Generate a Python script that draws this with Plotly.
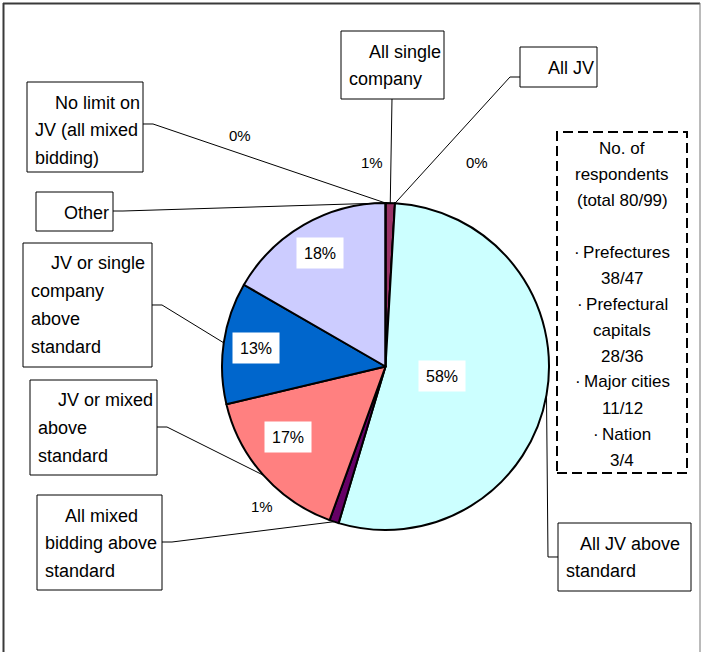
import math
import plotly.graph_objects as go

# ---- data -------------------------------------------------------------
categories = [
    "All single company",
    "All JV",
    "All JV above standard",
    "All mixed bidding above standard",
    "JV or mixed above standard",
    "JV or single company above standard",
    "Other",
    "No limit on JV (all mixed bidding)",
]
shares = [1, 0, 58, 1, 17, 13, 18, 0]  # percent of respondents
slice_colors = ["#993366", "#FFFFFF", "#CCFFFF", "#660066",
                "#FF8080", "#0066CC", "#CCCCFF", "#FFFFFF"]

respondent_lines = [
    "No. of", "respondents", "(total 80/99)", "",
    "·\u2009Prefectures", "38/47",
    "·\u2009Prefectural", "capitals", "28/36",
    "·\u2009Major cities", "11/12",
    "·\u2009Nation", "3/4",
]

# ---- layout helpers ----------------------------------------------------
W, H = 701, 652
CX, CY, R = 385.5, 366.5, 163.5
FONT = "Liberation Sans, Arial, sans-serif"


def px(x):
    return x / W


def py(y):
    return 1 - y / H


def edge_point(theta_deg):
    t = math.radians(theta_deg)
    return CX + R * math.sin(t), CY - R * math.cos(t)


# label boxes: rectangle, wrapped text, leader start, elbow, anchor within slice
label_boxes = {
    "All single company": dict(rect=(341, 31, 444, 99), lines=["All single", "company"],
                               start=(392, 99), elbow=None, frac=0.5, indent=20),
    "All JV": dict(rect=(520, 47, 597, 87), lines=["All JV"],
                   start=(520, 77), elbow=(510, 77), frac=0.0, indent=20),
    "No limit on JV (all mixed bidding)": dict(rect=(27, 82, 143, 172),
                                               lines=["No limit on", "JV (all mixed", "bidding)"],
                                               start=(143, 124), elbow=(153, 124), frac=1.0, indent=20),
    "Other": dict(rect=(36, 192, 113, 231), lines=["Other"],
                  start=(113, 211), elbow=(123, 211), frac=0.97, indent=20),
    "JV or single company above standard": dict(rect=(23, 243, 152, 367),
                                                lines=["JV or single", "company", "above", "standard"],
                                                start=(152, 305), elbow=(162, 305), frac=0.5, indent=20),
    "JV or mixed above standard": dict(rect=(30, 380, 157, 475),
                                       lines=["JV or mixed", "above", "standard"],
                                       start=(157, 427), elbow=(167, 427), frac=0.5, indent=20),
    "All mixed bidding above standard": dict(rect=(37, 495, 162, 590),
                                             lines=["All mixed", "bidding above", "standard"],
                                             start=(162, 542), elbow=(172, 542), frac=0.5, indent=20),
    "All JV above standard": dict(rect=(558, 523, 691, 591), lines=["All JV above", "standard"],
                                  start=(558, 557), elbow=(548, 557), frac=0.5, indent=14),
}

# small percentage labels placed outside the pie
outside_pct_pos = {
    "All single company": (372, 152),
    "All JV": (490, 152),
    "No limit on JV (all mixed bidding)": (240, 125),
    "All mixed bidding above standard": (262, 517),
}

# ---- slice angles from the data -----------------------------------------
total = sum(shares)
starts, ends = [], []
acc = 0
for v in shares:
    starts.append(360 * acc / total)
    acc += v
    ends.append(360 * acc / total)

fig = go.Figure(go.Pie(
    labels=categories,
    values=shares,
    sort=False,
    direction="clockwise",
    rotation=0,
    marker=dict(colors=slice_colors, line=dict(color="black", width=2)),
    textinfo="none",
    hoverinfo="label+percent",
    showlegend=False,
    domain=dict(x=[px(CX - R), px(CX + R)], y=[py(CY + R), py(CY - R)]),
))

shapes = []
annotations = []

# chart frame
shapes.append(dict(type="line", xref="paper", yref="paper", x0=px(3.5), x1=px(3.5),
                   y0=py(3), y1=py(652), line=dict(color="#3a3a3a", width=2)))
shapes.append(dict(type="line", xref="paper", yref="paper", x0=px(3), x1=px(700),
                   y0=py(3.5), y1=py(3.5), line=dict(color="#3a3a3a", width=2)))
shapes.append(dict(type="line", xref="paper", yref="paper", x0=px(700), x1=px(700),
                   y0=py(3), y1=py(652), line=dict(color="#777777", width=1)))

# category boxes with leader lines
for i, cat in enumerate(categories):
    spec = label_boxes[cat]
    x0, y0, x1, y1 = spec["rect"]
    shapes.append(dict(type="rect", xref="paper", yref="paper",
                       x0=px(x0), x1=px(x1), y0=py(y1), y1=py(y0),
                       line=dict(color="black", width=1), fillcolor="white", layer="above"))
    for j, text in enumerate(spec["lines"]):
        tx = x0 + 6 + (spec["indent"] if j == 0 else 0)
        ty = y0 + 20.5 + j * 27.8
        annotations.append(dict(x=px(tx), y=py(ty), xref="paper", yref="paper",
                                text=text, showarrow=False, xanchor="left", yanchor="middle",
                                font=dict(family=FONT, size=18, color="black")))
    theta = starts[i] + spec["frac"] * (ends[i] - starts[i])
    ex, ey = edge_point(theta)
    pts = [spec["start"]] + ([spec["elbow"]] if spec["elbow"] else []) + [(ex, ey)]
    path = "M " + " L ".join(f"{px(a):.5f},{py(b):.5f}" for a, b in pts)
    shapes.append(dict(type="path", xref="paper", yref="paper", path=path,
                       line=dict(color="black", width=1)))

# percentage labels
biggest = max(shares)
for i, cat in enumerate(categories):
    v = shares[i]
    if cat in outside_pct_pos:
        x, y = outside_pct_pos[cat]
        annotations.append(dict(x=px(x), y=py(y), xref="paper", yref="paper",
                                text=f"{v}%", showarrow=False,
                                font=dict(family=FONT, size=15, color="black")))
    else:
        mid = (starts[i] + ends[i]) / 2
        rf = 0.35 if v == biggest else 0.8
        t = math.radians(mid)
        lx, ly = CX + rf * R * math.sin(t), CY - rf * R * math.cos(t)
        annotations.append(dict(x=px(lx), y=py(ly), xref="paper", yref="paper",
                                text=f"{v}%", showarrow=False, bgcolor="white",
                                width=44, height=28, borderpad=1,
                                font=dict(family=FONT, size=16, color="black")))

# respondents panel
shapes.append(dict(type="rect", xref="paper", yref="paper",
                   x0=px(557), x1=px(687), y0=py(473), y1=py(132),
                   line=dict(color="black", width=2, dash="10px,5px")))
for j, text in enumerate(respondent_lines):
    if not text:
        continue
    annotations.append(dict(x=px(622), y=py(148 + j * 26), xref="paper", yref="paper",
                            text=text, showarrow=False, xanchor="center", yanchor="middle",
                            font=dict(family=FONT, size=17, color="black")))

fig.update_layout(
    width=W, height=H, autosize=False,
    margin=dict(l=0, r=0, t=0, b=0),
    paper_bgcolor="white", plot_bgcolor="white",
    shapes=shapes, annotations=annotations,
)

fig.write_html("out.html")
